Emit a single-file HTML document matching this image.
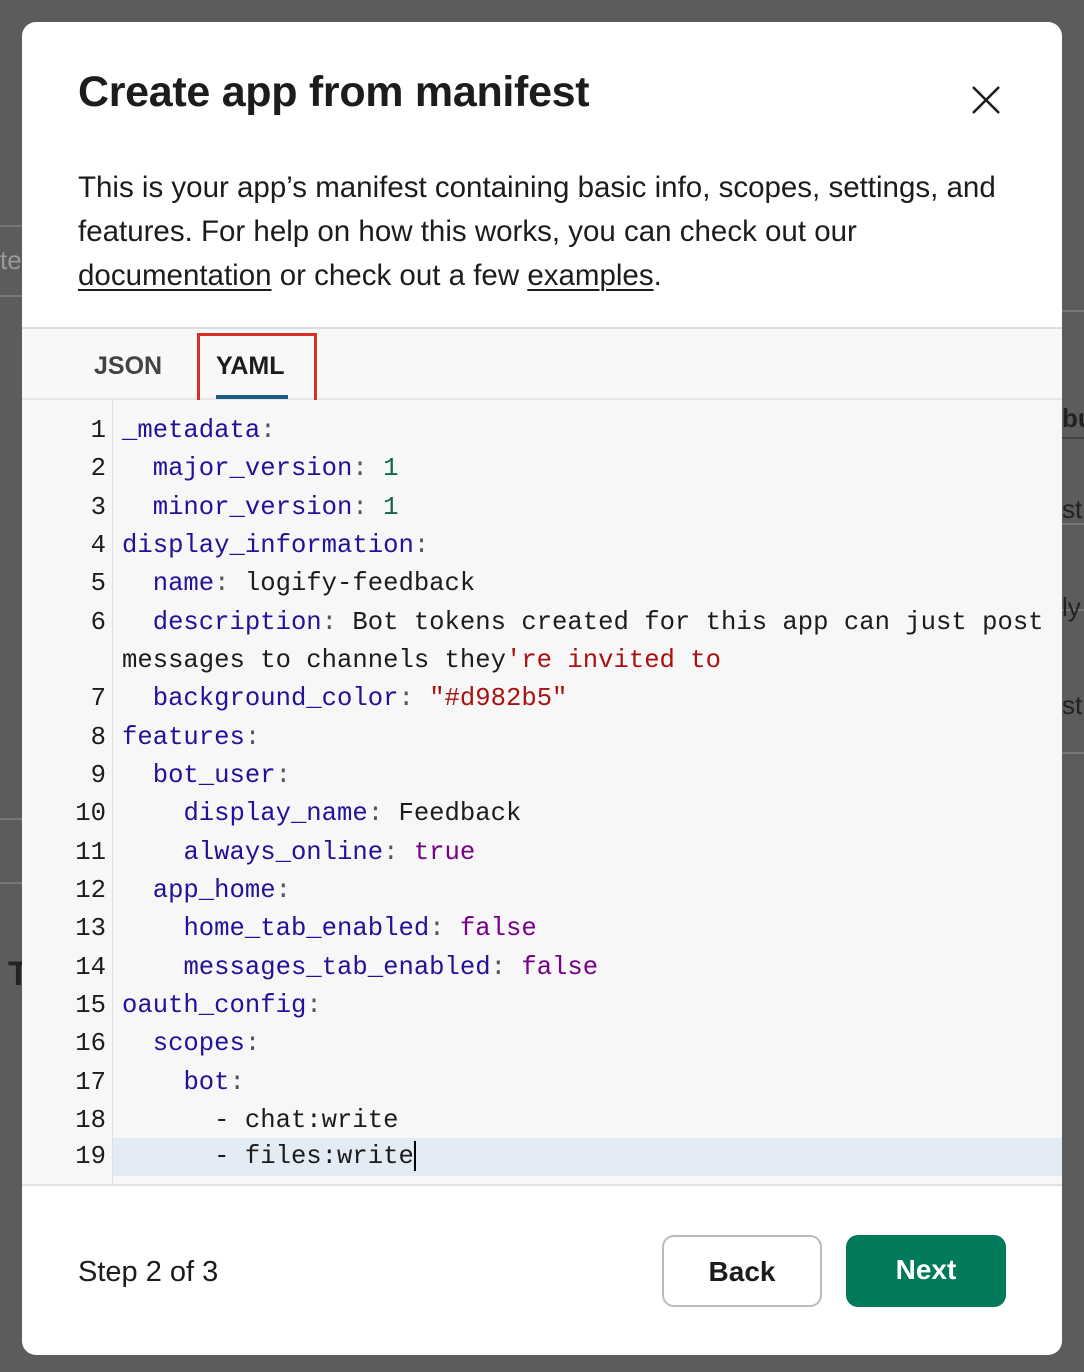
<!DOCTYPE html>
<html><head><meta charset="utf-8"><style>
*{margin:0;padding:0;box-sizing:border-box}
body{width:1084px;height:1372px;background:#5c5c5c;position:relative;overflow:hidden;font-family:"Liberation Sans",sans-serif}
.bgl{position:absolute;background:#777;height:2px}
.modal{position:absolute;left:22px;top:22px;width:1040px;height:1333px;background:#fff;border-radius:14px;overflow:hidden}
h1{position:absolute;left:56px;top:46px;font-size:43px;font-weight:bold;color:#1d1c1d;letter-spacing:-0.3px}
.close{position:absolute;left:948px;top:62px;width:32px;height:32px}
.desc{position:absolute;left:56px;top:144px;width:930px;font-size:29.5px;line-height:44px;color:#1d1c1d}
.desc u{text-decoration-thickness:2px;text-underline-offset:4px}
.tabs{position:absolute;left:0;top:305px;width:1040px;height:73px;background:#f8f8f8;border-top:2px solid #ddd;border-bottom:2px solid #e6e6e6}
.tab{position:absolute;top:23px;font-size:25px;font-weight:bold;color:#454245}
.uline{position:absolute;left:194px;top:66px;width:72px;height:4px;background:#1d5c87}
.redbox{position:absolute;left:175px;top:4px;width:120px;height:76px;border:3px solid #d93025}
.code{position:absolute;left:0;top:378px;width:1040px;height:786px;background:#f7f7f7;border-bottom:2px solid #e2e2e2}
.gut{position:absolute;left:90px;top:0;width:1px;height:786px;background:#e0e0e0}
.hl{position:absolute;left:91px;top:738px;width:949px;height:38px;background:#e3ecf5}
.row{position:absolute;left:0;height:38px;line-height:38px;font-family:"Liberation Mono",monospace;font-size:25.6px;color:#1d1c1d;white-space:pre}
.n{position:absolute;left:0;width:84px;text-align:right;color:#1d1c1d}
.t{position:absolute;left:100px}
.k{color:#221199}.num{color:#116644}.s{color:#aa1111}.b{color:#770088}.p{color:#555}
.cur{display:inline-block;width:2px;height:30px;background:#000;vertical-align:middle}
.step{position:absolute;left:56px;top:1234px;font-size:29px;color:#1d1c1d}
.btn{position:absolute;top:1213px;width:160px;height:72px;border-radius:12px;font-size:28px;font-weight:bold;text-align:center;line-height:70px}
.back{left:640px;border:2px solid #bbb;color:#1d1c1d;background:#fff}
.next{left:824px;background:#007a5a;color:#fff}
</style></head><body>
<div class="bgl" style="left:0;top:225px;width:22px"></div>
<div class="bgl" style="left:0;top:295px;width:22px"></div>
<div style="position:absolute;left:0;top:245px;color:#999;font-size:26px">te</div>
<div class="bgl" style="left:1062px;top:310px;width:22px"></div>
<div class="bgl" style="left:1062px;top:437px;width:22px;background:#444"></div>
<div class="bgl" style="left:1062px;top:523px;width:22px"></div>
<div class="bgl" style="left:1062px;top:609px;width:22px"></div>
<div class="bgl" style="left:1062px;top:752px;width:22px"></div>
<div style="position:absolute;left:1062px;top:403px;font-size:26px;font-weight:bold;color:#222">bu</div>
<div style="position:absolute;left:1062px;top:494px;font-size:26px;color:#222">st</div>
<div style="position:absolute;left:1062px;top:592px;font-size:26px;color:#222">ly</div>
<div style="position:absolute;left:1062px;top:690px;font-size:26px;color:#222">st</div>
<div style="position:absolute;left:8px;top:955px;font-size:34px;font-weight:bold;color:#222">T</div>
<div class="bgl" style="left:0;top:818px;width:22px"></div>
<div class="bgl" style="left:0;top:882px;width:22px"></div>
<div class="modal">
<h1>Create app from manifest</h1>
<svg class="close" viewBox="0 0 32 32"><path d="M3 3L29 29M29 3L3 29" stroke="#1d1c1d" stroke-width="2.6" fill="none"/></svg>
<div class="desc">This is your app’s manifest containing basic info, scopes, settings, and features. For help on how this works, you can check out our <u>documentation</u> or check out a few <u>examples</u>.</div>
<div class="tabs">
<div class="tab" style="left:72px">JSON</div>
<div class="tab" style="left:194px;color:#1d1c1d">YAML</div>
<div class="uline"></div>
<div class="redbox"></div>
</div>
<div class="code">
<div class="hl"></div>
<div class="gut"></div>
<div class="row" style="top:12px"><span class="n">1</span><span class="t"><span class="k">_metadata</span><span class="p">:</span></span></div>
<div class="row" style="top:50px"><span class="n">2</span><span class="t">  <span class="k">major_version</span><span class="p">:</span> <span class="num">1</span></span></div>
<div class="row" style="top:89px"><span class="n">3</span><span class="t">  <span class="k">minor_version</span><span class="p">:</span> <span class="num">1</span></span></div>
<div class="row" style="top:127px"><span class="n">4</span><span class="t"><span class="k">display_information</span><span class="p">:</span></span></div>
<div class="row" style="top:165px"><span class="n">5</span><span class="t">  <span class="k">name</span><span class="p">:</span> logify-feedback</span></div>
<div class="row" style="top:204px"><span class="n">6</span><span class="t">  <span class="k">description</span><span class="p">:</span> Bot tokens created for this app can just post</span></div>
<div class="row" style="top:242px"><span class="t">messages to channels they<span class="s">'re invited to</span></span></div>
<div class="row" style="top:280px"><span class="n">7</span><span class="t">  <span class="k">background_color</span><span class="p">:</span> <span class="s">"#d982b5"</span></span></div>
<div class="row" style="top:319px"><span class="n">8</span><span class="t"><span class="k">features</span><span class="p">:</span></span></div>
<div class="row" style="top:357px"><span class="n">9</span><span class="t">  <span class="k">bot_user</span><span class="p">:</span></span></div>
<div class="row" style="top:395px"><span class="n">10</span><span class="t">    <span class="k">display_name</span><span class="p">:</span> Feedback</span></div>
<div class="row" style="top:434px"><span class="n">11</span><span class="t">    <span class="k">always_online</span><span class="p">:</span> <span class="b">true</span></span></div>
<div class="row" style="top:472px"><span class="n">12</span><span class="t">  <span class="k">app_home</span><span class="p">:</span></span></div>
<div class="row" style="top:510px"><span class="n">13</span><span class="t">    <span class="k">home_tab_enabled</span><span class="p">:</span> <span class="b">false</span></span></div>
<div class="row" style="top:549px"><span class="n">14</span><span class="t">    <span class="k">messages_tab_enabled</span><span class="p">:</span> <span class="b">false</span></span></div>
<div class="row" style="top:587px"><span class="n">15</span><span class="t"><span class="k">oauth_config</span><span class="p">:</span></span></div>
<div class="row" style="top:625px"><span class="n">16</span><span class="t">  <span class="k">scopes</span><span class="p">:</span></span></div>
<div class="row" style="top:664px"><span class="n">17</span><span class="t">    <span class="k">bot</span><span class="p">:</span></span></div>
<div class="row" style="top:702px"><span class="n">18</span><span class="t">      - chat:write</span></div>
<div class="row" style="top:738px"><span class="n">19</span><span class="t">      - files:write<span class="cur"></span></span></div>
</div>
<div class="step">Step 2 of 3</div>
<div class="btn back">Back</div>
<div class="btn next">Next</div>
</div>
</body></html>
